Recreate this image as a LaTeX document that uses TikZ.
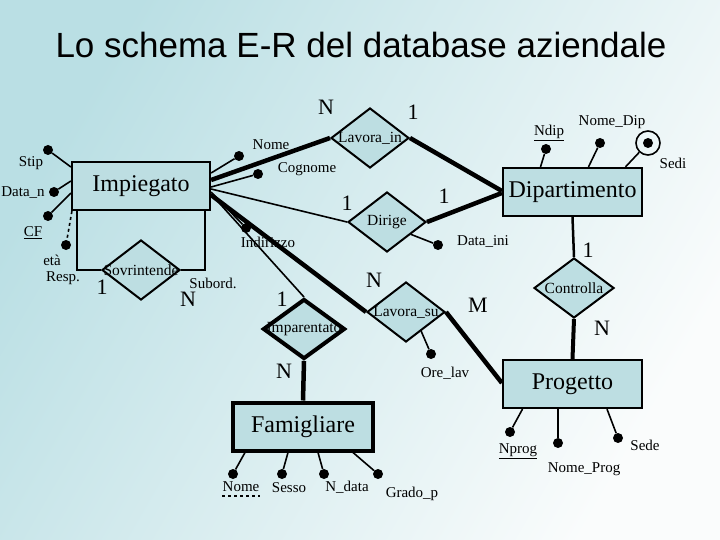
\documentclass[tikz,border=0pt]{standalone}
\usepackage{fontspec}
\setmainfont{Liberation Serif}
\newfontfamily\titlefont{Liberation Sans}
\usepackage{tikz}
\usetikzlibrary{positioning,calc,shapes.geometric}

\definecolor{bgA}{RGB}{186,223,228}
\definecolor{bgB}{RGB}{250,252,252}
\definecolor{entfill}{RGB}{189,222,226}

\begin{document}
\begin{tikzpicture}[
    x=1pt, y=-1pt,
    entity/.style={draw, fill=entfill, line width=2.2pt, inner sep=0pt, minimum width=138pt, minimum height=48pt, font=\fontsize{24}{26}\selectfont},
    weakentity/.style={entity, line width=4pt},
    rel/.style={diamond, draw, fill=entfill, line width=2pt, inner sep=0pt, minimum width=78pt, minimum height=60pt},
    reltext/.style={font=\fontsize{15.5}{17}\selectfont, inner sep=0pt},
    dot/.style={circle, fill=black, inner sep=0pt, minimum size=10pt},
    attr/.style={font=\fontsize{15}{17}\selectfont, inner sep=0pt},
    card/.style={font=\fontsize{22}{24}\selectfont, inner sep=0pt},
    thin/.style={line width=1.6pt},
    heavy/.style={line width=4.5pt}
]
\useasboundingbox (0,0) rectangle (720,540);
\shade[left color=bgA, right color=bgB, shading angle=60] (0,0) rectangle (720,540);

\node[font=\titlefont\fontsize{35}{40}\selectfont, inner sep=0pt] (title) at (361,45) {Lo schema E-R del database aziendale};

% entities
\node[entity] (imp) at (141,186) {Impiegato};
\node[entity, minimum width=139pt] (dip) at (572.5,192) {Dipartimento};
\node[entity, minimum width=139pt] (prog) at (572.5,384) {Progetto};
\node[weakentity, minimum width=140pt] (fam) at (303,426.5) {Famigliare};

% relationships
\node[rel, label={[reltext]center:Lavora\_in}] (lin) at (370,138) {};
\node[rel, label={[reltext]center:Dirige}] (dir) at (387,222) {};
\node[rel, label={[reltext]center:Lavora\_su}] (lsu) at (406,312) {};
\node[rel, line width=4pt, minimum width=82pt, label={[reltext]center:Imparentato}] (imparent) at (304,329) {};
\node[rel, label={[reltext]center:Sovrintende}] (sov) at (141,270) {};
\node[rel, minimum width=80pt, label={[reltext]center:Controlla}] (con) at (574,288) {};

% relationship links
\draw[heavy] ([yshift=6pt]imp.east) -- (lin.west);
\draw[heavy] (lin.east) -- ([yshift=1pt]dip.west);
\draw[heavy] (dir.east) -- ([yshift=-1pt]dip.west);
\draw[thin] ([yshift=-3pt]imp.east) -- (dir.west);
\draw[thin] ([yshift=-8pt]imp.east) -- (imparent.north);
\draw[heavy] ([yshift=-9pt]imp.east) -- (lsu.west);
\draw[heavy] (lsu.east) -- ([yshift=1pt]prog.west);
\draw[line width=2.5pt] (dip.south) -- (con.north);
\draw[line width=4pt] (con.south) -- (prog.north);
\draw[heavy] (imparent.south) -- (fam.north);
\draw[thin] ([xshift=6pt]imp.south west) |- (sov.west);
\draw[thin] ([xshift=-6pt]imp.south east) |- (sov.east);

% attributes of Impiegato
\node[dot] (stip) at (48,150) {};
\node[dot] (datan) at (54,192) {};
\node[dot] (cf) at (48,216) {};
\node[dot] (eta) at (66,245) {};
\node[dot] (nome) at (239,156) {};
\node[dot] (cognome) at (258,174) {};
\node[dot] (indirizzo) at (246,228) {};
\draw[thin] ([yshift=19pt]imp.west) -- (stip);
\draw[thin] ([yshift=5pt]imp.west) -- (datan);
\draw[thin] ([yshift=-7pt]imp.west) -- (cf);
\draw[thin, dashed] ([xshift=1pt]imp.south west) -- (eta);
\draw[thin] ([yshift=13pt]imp.east) -- (nome);
\draw[thin] ([yshift=-1pt]imp.east) -- (cognome);
\draw[thin] ([yshift=-6pt]imp.east) -- (indirizzo);
\node[attr] (stipT) at (31,163) {Stip};
\node[attr] (datanT) at (23,193) {Data\_n};
\node[attr] (cfT) at (33,233) {\underline{CF}};
\node[attr] (etaT) at (52,260) {età};
\node[attr] (respT) at (63,278) {Resp.};
\node[attr] (subT) at (213,283) {Subord.};
\node[attr] (nomeT) at (271,145) {Nome};
\node[attr] (cognomeT) at (307,169) {Cognome};
\node[attr] (indirizzoT) at (268,242) {Indirizzo};

% attributes of Dipartimento
\node[dot] (ndip) at (546,149) {};
\node[dot] (nomedip) at (600,143) {};
\node[dot] (sedi) at (648,143) {};
\node[circle, draw, line width=1.6pt, minimum size=24pt] (sediring) at (648,143) {};
\draw[thin] ([xshift=-32pt]dip.north) -- (ndip);
\draw[thin] ([xshift=16pt]dip.north) -- (nomedip);
\draw[thin] ([xshift=53pt]dip.north) -- (sediring);
\node[attr] (ndipT) at (549,133) {\underline{Ndip}};
\node[attr] (nomedipT) at (612,122) {Nome\_Dip};
\node[attr] (sediT) at (673,163) {Sedi};

% attributes of the relationships
\node[dot] (dataini) at (438,245) {};
\node[dot] (orelav) at (431,354) {};
\draw[thin] ($(dir.east)!0.4!(dir.south)$) -- (dataini);
\draw[thin] ($(lsu.south)!0.38!(lsu.east)$) -- (orelav);
\node[attr] (datainiT) at (483,242) {Data\_ini};
\node[attr] (orelavT) at (445,373) {Ore\_lav};

% attributes of Progetto
\node[dot] (nprog) at (510,432) {};
\node[dot] (nomeprog) at (558,443) {};
\node[dot] (sede) at (618,438) {};
\draw[thin] ([xshift=-50pt]prog.south) -- (nprog);
\draw[thin] ([xshift=-14.5pt]prog.south) -- (nomeprog);
\draw[thin] ([xshift=34.5pt]prog.south) -- (sede);
\node[attr] (nprogT) at (518,451) {\underline{Nprog}};
\node[attr] (nomeprogT) at (584,469) {Nome\_Prog};
\node[attr] (sedeT) at (645,445) {Sede};

% attributes of Famigliare
\foreach \name/\dx/\xx/\tx/\ty/\txt in {fnome/-58/233/241/487/Nome, fsesso/-15/282/289/488/Sesso, fndata/15/324/347/487/N\_data, fgrado/50/378/412/494/Grado\_p}{
  \node[dot] (\name) at (\xx,474) {};
  \draw[thin] ([xshift=\dx pt]fam.south) -- (\name);
  \node[attr] (\name T) at (\tx,\ty) {\txt};
}
\draw[thin, dashed] ([yshift=-4pt]fnomeT.south west) -- ([yshift=-4pt]fnomeT.south east);

% cardinalities
\node[card] (cLinImp) at (326,107) {N};
\node[card] (cLinDip) at (413,112) {1};
\node[card] (cDirImp) at (347,203) {1};
\node[card] (cDirDip) at (444,196) {1};
\node[card] (cConDip) at (588,250) {1};
\node[card] (cLsuImp) at (374,280) {N};
\node[card] (cLsuProg) at (478,305) {M};
\node[card] (cConProg) at (602,328) {N};
\node[card] (cSovResp) at (102,287) {1};
\node[card] (cSovSub) at (188,299) {N};
\node[card] (cImpImp) at (282,299) {1};
\node[card] (cImpFam) at (284,371) {N};
\end{tikzpicture}
\end{document}
